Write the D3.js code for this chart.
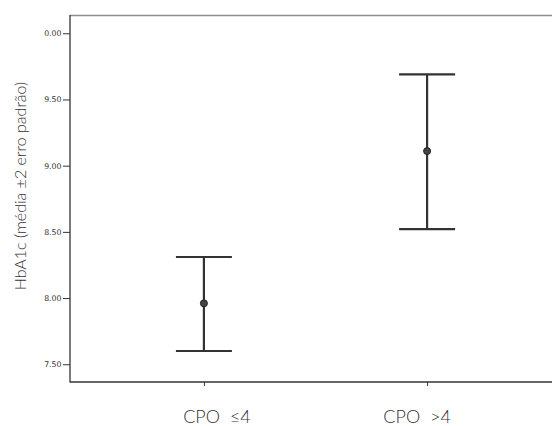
<!DOCTYPE html>
<html>
<head>
<meta charset="utf-8">
<script src="https://cdn.jsdelivr.net/npm/d3@7"></script>
<style>
  html, body { margin: 0; padding: 0; background: #fff; }
  svg { display: block; }
  .lbl { font-family: Lato, "Open Sans", sans-serif; font-weight: 300; fill: #333; }
  .tick-lbl { font-family: "DejaVu Sans", sans-serif; font-size: 7.8px; fill: #333; }
</style>
</head>
<body>
<svg id="chart" width="552" height="426"></svg>
<script>
// Groups and HbA1c summary values (mean and ±2 standard error limits)
const categories = ["CPO  \u22644", "CPO  >4"];
const means = [7.96, 9.11];
const lower = [7.60, 8.52];
const upper = [8.31, 9.69];

// Y axis ticks as printed
const tickValues = [7.5, 8.0, 8.5, 9.0, 9.5, 10.0];
const tickLabels = ["7.50", "8.00", "8.50", "9.00", "9.50", "0.00"];

const svg = d3.select("#chart");
const plotLeft = 70, plotRight = 561, plotTop = 15, plotBottom = 382;

const x = d3.scalePoint().domain(categories).range([plotLeft, plotRight]).padding(0.6);
const y = d3.scaleLinear().domain([7.366, 10.138]).range([plotBottom, plotTop]);

// Frame: light top border, dark left and bottom axes
svg.append("line")
  .attr("x1", plotLeft).attr("x2", 552).attr("y1", plotTop + 0.5).attr("y2", plotTop + 0.5)
  .attr("stroke", "#8c8c8c").attr("stroke-width", 1.5);

// Y axis
const yAxis = d3.axisLeft(y)
  .tickValues(tickValues)
  .tickSize(7)
  .tickPadding(1.5)
  .tickFormat((d, i) => tickLabels[i]);
const gy = svg.append("g").attr("transform", `translate(${plotLeft},0)`).call(yAxis);
gy.select(".domain").remove();
gy.attr("font-family", null).attr("font-size", null);
gy.selectAll(".tick line").attr("stroke", "#333");
gy.selectAll(".tick text").attr("class", "tick-lbl").attr("fill", "#333");
svg.append("line")
  .attr("x1", plotLeft).attr("x2", plotLeft).attr("y1", plotTop).attr("y2", plotBottom + 0.5)
  .attr("stroke", "#333").attr("stroke-width", 1.3);

// X axis
const xAxis = d3.axisBottom(x).tickSize(4).tickFormat("");
const gx = svg.append("g").attr("transform", `translate(0,${plotBottom})`).call(xAxis);
gx.select(".domain").remove();
gx.selectAll(".tick line").attr("stroke", "#333");
svg.append("line")
  .attr("x1", plotLeft).attr("x2", 552).attr("y1", plotBottom).attr("y2", plotBottom)
  .attr("stroke", "#333").attr("stroke-width", 1.3);

// Category labels
const labelShift = [13, -10];
svg.selectAll(".cat")
  .data(categories)
  .join("text")
  .attr("class", "lbl cat")
  .attr("x", (d, i) => x(d) + labelShift[i])
  .attr("y", 423)
  .attr("text-anchor", "middle")
  .attr("font-size", 18)
  .style("white-space", "pre")
  .text(d => d);

// Y axis title
svg.append("text")
  .attr("class", "lbl")
  .attr("transform", "translate(26,186) rotate(-90)")
  .attr("text-anchor", "middle")
  .attr("font-size", 16)
  .text("HbA1c (média \u00b12 erro padrão)");

// Error bars
const capHalf = 28;
const bars = svg.append("g").attr("stroke", "#333").attr("stroke-width", 2.2);
categories.forEach((c, i) => {
  const cx = x(c);
  bars.append("line").attr("x1", cx).attr("x2", cx).attr("y1", y(upper[i])).attr("y2", y(lower[i]));
  bars.append("line").attr("x1", cx - capHalf).attr("x2", cx + capHalf).attr("y1", y(upper[i])).attr("y2", y(upper[i]));
  bars.append("line").attr("x1", cx - capHalf).attr("x2", cx + capHalf).attr("y1", y(lower[i])).attr("y2", y(lower[i]));
});

// Mean markers
svg.selectAll(".mean")
  .data(means)
  .join("circle")
  .attr("class", "mean")
  .attr("cx", (d, i) => x(categories[i]))
  .attr("cy", d => y(d))
  .attr("r", 3.5)
  .attr("fill", "#444")
  .attr("stroke", "#222")
  .attr("stroke-width", 1);
</script>
</body>
</html>
